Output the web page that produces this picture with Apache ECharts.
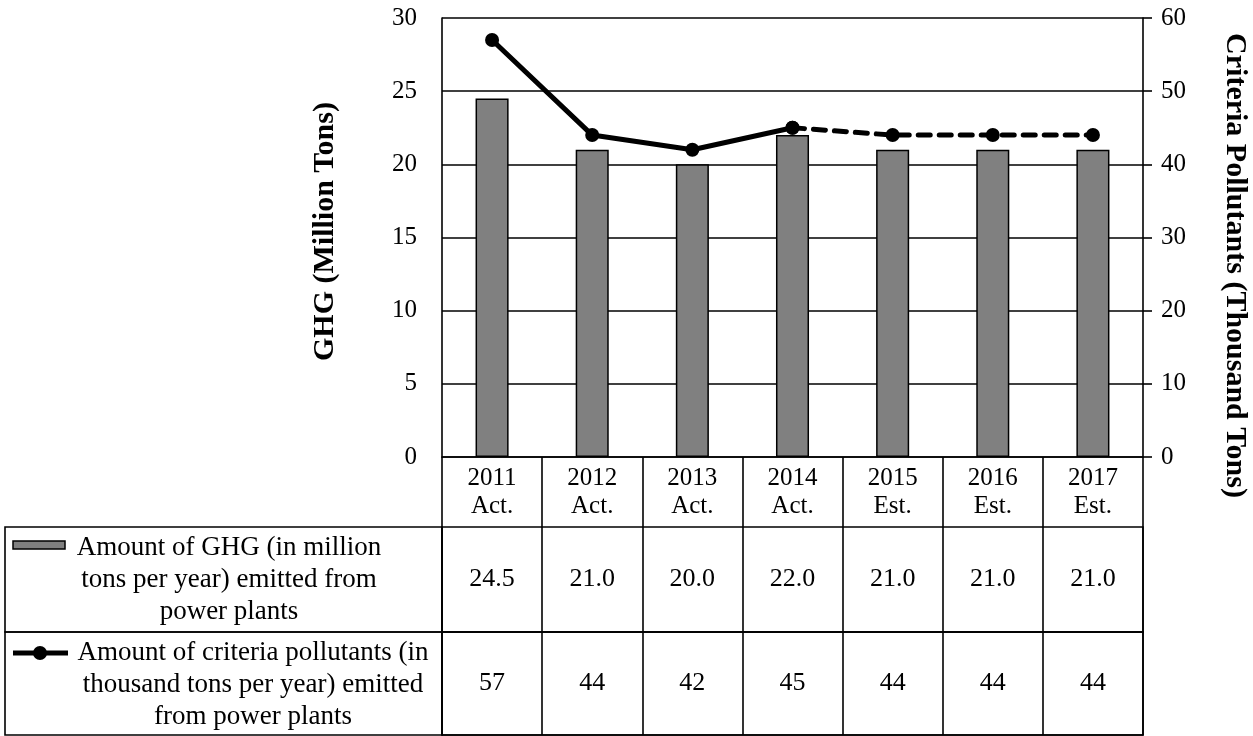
<!DOCTYPE html>
<html>
<head>
<meta charset="utf-8">
<title>GHG and Criteria Pollutants from Power Plants</title>
<script src="https://cdn.jsdelivr.net/npm/echarts@6/dist/echarts.min.js"></script>
<style>
  html, body { margin: 0; padding: 0; background: #ffffff; }
  #chart { width: 1253px; height: 736px; }
</style>
</head>
<body>
<div id="chart"></div>
<script>
// Years and whether each figure is actual or estimated
const years = ['2011', '2012', '2013', '2014', '2015', '2016', '2017'];
const status = ['Act.', 'Act.', 'Act.', 'Act.', 'Est.', 'Est.', 'Est.'];
// GHG emitted from power plants, million tons per year
const ghg = [24.5, 21.0, 20.0, 22.0, 21.0, 21.0, 21.0];
// Criteria pollutants emitted from power plants, thousand tons per year
const criteria = [57, 44, 42, 45, 44, 44, 44];
// Left and right axis tick settings
const leftTicks = { min: 0, max: 30, interval: 5 };
const rightTicks = { min: 0, max: 60, interval: 10 };

const ghgName = 'Amount of GHG (in million\ntons per year) emitted from\npower plants';
const critName = 'Amount of criteria pollutants (in\nthousand tons per year) emitted\nfrom power plants';

const categories = years.map((y, i) => y + '\n' + status[i]);
// Last actual year: solid line up to here, dashed afterwards
const lastActual = status.lastIndexOf('Act.');
const critActual = criteria.map((v, i) => (i <= lastActual ? v : '-'));
const critEstimate = criteria.map((v, i) => (i >= lastActual ? v : '-'));

const FONT = '"Liberation Serif", "Times New Roman", serif';
const BLACK = '#000000';
const BAR_GRAY = '#808080';
const RULE = 1.6;

// Plot and table geometry
const plotLeft = 442, plotWidth = 701, plotTop = 18, plotBottom = 457;
const headerBottom = 527, rowSplit = 632, tableBottom = 735, tableLeft = 5;

const chart = echarts.init(document.getElementById('chart'), null, { renderer: 'canvas' });

const hiddenY = (g) => ({ type: 'value', gridIndex: g, show: false, min: 0, max: 1 });

const tableRowAxis = (g, labels) => ({
  type: 'category',
  gridIndex: g,
  data: labels,
  position: 'top',
  boundaryGap: true,
  axisLine: { show: true, lineStyle: { color: BLACK, width: RULE } },
  axisTick: { show: false },
  splitLine: { show: true, interval: 0, lineStyle: { color: BLACK, width: RULE } },
  axisLabel: {
    inside: true,
    interval: 0,
    margin: g === 1 ? (rowSplit - headerBottom) / 2 : (tableBottom - rowSplit) / 2,
    verticalAlign: 'middle',
    fontFamily: FONT,
    fontSize: 26,
    color: BLACK
  }
});

const option = {
  backgroundColor: '#ffffff',
  animation: false,
  textStyle: { fontFamily: FONT, color: BLACK },
  grid: [
    { left: plotLeft, top: plotTop, width: plotWidth, height: plotBottom - plotTop,
      containLabel: false, outerBoundsMode: 'none' },
    { left: plotLeft, top: headerBottom, width: plotWidth, height: rowSplit - headerBottom,
      outerBoundsMode: 'none',
      show: true, borderColor: BLACK, borderWidth: RULE, backgroundColor: 'transparent' },
    { left: plotLeft, top: rowSplit, width: plotWidth, height: tableBottom - rowSplit,
      outerBoundsMode: 'none',
      show: true, borderColor: BLACK, borderWidth: RULE, backgroundColor: 'transparent' }
  ],
  xAxis: [
    {
      type: 'category',
      gridIndex: 0,
      data: categories,
      boundaryGap: true,
      axisLine: { show: true, onZero: false, lineStyle: { color: BLACK, width: RULE } },
      axisTick: { show: true, interval: 0, length: headerBottom - plotBottom, lineStyle: { color: BLACK, width: RULE } },
      axisLabel: {
        interval: 0,
        margin: 7,
        fontFamily: FONT,
        fontSize: 25,
        lineHeight: 28,
        color: BLACK,
        align: 'center'
      }
    },
    tableRowAxis(1, ghg.map(v => v.toFixed(1))),
    tableRowAxis(2, criteria.map(v => String(v)))
  ],
  yAxis: [
    {
      type: 'value',
      gridIndex: 0,
      position: 'left',
      min: leftTicks.min,
      max: leftTicks.max,
      interval: leftTicks.interval,
      name: 'GHG (Million Tons)',
      nameLocation: 'middle',
      nameRotate: 90,
      nameGap: 102,
      nameTextStyle: { fontFamily: FONT, fontSize: 30, fontWeight: 'bold', color: BLACK, padding: [0, 0, 0, 12] },
      axisLine: { show: true, lineStyle: { color: BLACK, width: RULE } },
      axisTick: { show: false },
      splitLine: { show: true, lineStyle: { color: BLACK, width: RULE } },
      axisLabel: { margin: 25, fontFamily: FONT, fontSize: 25, color: BLACK }
    },
    {
      type: 'value',
      gridIndex: 0,
      position: 'right',
      min: rightTicks.min,
      max: rightTicks.max,
      interval: rightTicks.interval,
      name: 'Criteria Pollutants (Thousand Tons)',
      nameLocation: 'middle',
      nameRotate: -90,
      nameGap: 77,
      nameTextStyle: { fontFamily: FONT, fontSize: 30, fontWeight: 'bold', color: BLACK, padding: [0, 0, 0, 56] },
      axisLine: { show: true, lineStyle: { color: BLACK, width: RULE } },
      axisTick: { show: true, inside: false, length: 9, lineStyle: { color: BLACK, width: RULE } },
      splitLine: { show: false },
      axisLabel: { margin: 18, fontFamily: FONT, fontSize: 25, color: BLACK }
    },
    hiddenY(1),
    hiddenY(2)
  ],
  series: [
    {
      name: ghgName,
      type: 'bar',
      xAxisIndex: 0,
      yAxisIndex: 0,
      data: ghg,
      barWidth: '33%',
      itemStyle: { color: BAR_GRAY, borderColor: BLACK, borderWidth: 1.5 },
      z: 2
    },
    {
      name: critName,
      type: 'line',
      xAxisIndex: 0,
      yAxisIndex: 1,
      data: critActual,
      symbol: 'circle',
      symbolSize: 14,
      itemStyle: { color: BLACK },
      lineStyle: { color: BLACK, width: 5, type: 'solid' },
      connectNulls: false,
      z: 4
    },
    {
      name: critName + ' (est.)',
      type: 'line',
      xAxisIndex: 0,
      yAxisIndex: 1,
      data: critEstimate,
      symbol: 'circle',
      symbolSize: 14,
      itemStyle: { color: BLACK },
      lineStyle: { color: BLACK, width: 5, type: [12, 9], cap: 'round' },
      connectNulls: false,
      z: 3
    }
  ],
  graphic: [
    // Legend column of the data table
    {
      type: 'rect',
      shape: { x: tableLeft, y: headerBottom, width: plotLeft - tableLeft, height: rowSplit - headerBottom },
      style: { fill: 'none', stroke: BLACK, lineWidth: RULE },
      silent: true
    },
    {
      type: 'rect',
      shape: { x: tableLeft, y: rowSplit, width: plotLeft - tableLeft, height: tableBottom - rowSplit },
      style: { fill: 'none', stroke: BLACK, lineWidth: RULE },
      silent: true
    },
    // Bar key
    {
      type: 'rect',
      shape: { x: 13, y: 541, width: 52, height: 8 },
      style: { fill: BAR_GRAY, stroke: BLACK, lineWidth: 1.5 },
      silent: true
    },
    {
      type: 'text',
      x: 229,
      y: (headerBottom + rowSplit) / 2,
      style: {
        text: ghgName,
        font: '27px ' + FONT,
        fill: BLACK,
        align: 'center',
        verticalAlign: 'middle',
        lineHeight: 32
      },
      silent: true
    },
    // Line key
    {
      type: 'line',
      shape: { x1: 13, y1: 653, x2: 68, y2: 653 },
      style: { stroke: BLACK, lineWidth: 5 },
      silent: true
    },
    {
      type: 'circle',
      shape: { cx: 40, cy: 653, r: 7 },
      style: { fill: BLACK },
      silent: true
    },
    {
      type: 'text',
      x: 253,
      y: (rowSplit + tableBottom) / 2 + 1,
      style: {
        text: critName,
        font: '27px ' + FONT,
        fill: BLACK,
        align: 'center',
        verticalAlign: 'middle',
        lineHeight: 32
      },
      silent: true
    }
  ]
};

chart.setOption(option);
</script>
</body>
</html>
